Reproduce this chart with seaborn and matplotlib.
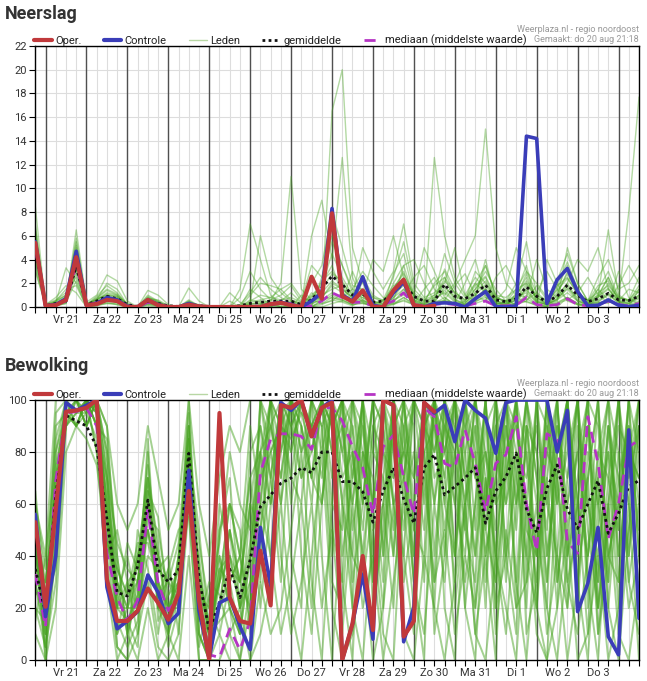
import matplotlib
matplotlib.use('Agg')
import matplotlib.pyplot as plt
import seaborn as sns
import pandas as pd
from matplotlib.lines import Line2D

# tijd-as: stappen van 6 uur vanaf do 20 aug 18:00
n_steps = 60
day_labels = ['Vr 21', 'Za 22', 'Zo 23', 'Ma 24', 'Di 25', 'Wo 26', 'Do 27',
              'Vr 28', 'Za 29', 'Zo 30', 'Ma 31', 'Di 1', 'Wo 2', 'Do 3']

# ---- Neerslag (mm) ----
rain_oper = [5.4, 0.1, 0.15, 0.6, 4.2, 0.15, 0.25, 0.6, 0.5, 0,
             0, 0.6, 0.15, 0, 0, 0.2, 0.05, 0, 0, 0,
             0, 0, 0, 0.25, 0.35, 0.15, 0, 2.55, 0.7, 7.9,
             0.9, 0.45, 1.4, 0, 0, 1.4, 2.3, 0.15, 0, 0.1]
rain_ctrl = [5.5, 0.1, 0.2, 0.7, 4.7, 0.15, 0.3, 0.8, 0.6, 0.05,
             0, 0.6, 0.2, 0, 0, 0.3, 0.05, 0, 0, 0,
             0, 0, 0, 0.25, 0.4, 0.2, 0, 0.5, 1.2, 8.3,
             1.0, 0.5, 2.55, 0.1, 0, 1.2, 2.1, 0.1, 0, 0.3,
             0.35, 0.3, 0, 0.7, 1.3, 0.03, 0, 0.1, 14.4, 14.2,
             0.3, 2.3, 3.25, 1.3, 0.1, 0.15, 0.6, 0.15, 0.03, 0.15]
rain_mean = [5.0, 0.1, 0.3, 0.5, 3.4, 0.2, 0.5, 0.9, 0.7, 0.2,
             0.05, 0.5, 0.3, 0.1, 0.05, 0.2, 0.1, 0.05, 0.05, 0.05,
             0.1, 0.3, 0.4, 0.5, 0.5, 0.5, 0.2, 0.6, 1.6, 2.6,
             1.9, 1.0, 1.1, 0.4, 0.5, 1.2, 2.0, 0.9, 0.5, 0.5,
             1.9, 0.9, 0.7, 1.15, 1.85, 0.6, 0.45, 0.7, 1.7, 0.9,
             0.45, 0.9, 1.85, 1.0, 0.45, 0.7, 1.15, 0.6, 0.55, 0.9]
rain_median = [5.0, 0.05, 0.2, 0.5, 3.5, 0.1, 0.4, 0.7, 0.6, 0.1,
               0, 0.4, 0.2, 0, 0, 0.1, 0, 0, 0, 0,
               0, 0.05, 0.1, 0.2, 0.3, 0.3, 0.1, 0.1, 0.5, 1.2,
               0.8, 0.4, 0.4, 0.1, 0.2, 0.5, 1.2, 0.2, 0.1, 0.2,
               0.3, 0.2, 0.1, 0.3, 0.5, 0.1, 0.1, 0.15, 0.8, 0.2,
               0.1, 0.2, 0.7, 0.2, 0.1, 0.2, 0.5, 0.2, 0.1, 0.3]
rain_members = [
    [5.0, 0.1, 0.3, 0.6, 4.0, 0.1, 0.5, 0.9, 0.7, 0.1, 0, 0.5, 0.3, 0, 0, 0.2, 0, 0, 0, 0, 0, 0.2, 0.5, 0.3, 0.4, 0.2, 0.1, 0.4, 1.5, 2.8, 2.2, 0.6, 1.0, 0.2, 0.3, 1.1, 1.8, 0.6, 0.2, 0.4, 1.6, 0.9, 0.4, 1.0, 1.9, 0.3, 0.2, 0.6, 1.5, 0.5, 0.2, 0.7, 1.6, 0.8, 0.2, 0.5, 1.0, 0.4, 0.3, 0.7],
    [6.2, 0, 0.1, 0.4, 5.2, 0.2, 0.8, 1.5, 1.1, 0.2, 0, 0.8, 0.4, 0.1, 0, 0.6, 0.1, 0, 0, 0, 0, 1.5, 0.8, 0.2, 0, 0, 0.3, 0.1, 2.5, 5.5, 3.5, 1.2, 0.4, 0, 0, 2.8, 4.5, 1.0, 0, 0.5, 3.2, 1.5, 0, 0.8, 4.0, 0.6, 0, 1.2, 3.5, 0.2, 0, 1.8, 3.8, 1.5, 0, 0.9, 2.5, 0.5, 0, 1.5],
    [3.5, 0.2, 0.6, 1.2, 2.5, 0, 0.2, 0.5, 0.4, 0, 0, 0.3, 0.1, 0, 0, 0.1, 0, 0, 0, 0, 0, 0, 0, 0, 0.5, 1.2, 0.4, 0, 0.5, 1.0, 0.6, 0.2, 2.2, 0.8, 0.4, 0.2, 0.8, 0.3, 1.5, 2.5, 0.8, 0.2, 0.5, 2.0, 1.2, 0, 0.4, 0.3, 0.5, 1.8, 0.6, 0, 0.8, 0.3, 0.2, 1.5, 0.6, 0.1, 0, 0.2],
    [8.5, 0, 0.2, 0.5, 6.5, 0.4, 1.0, 2.7, 2.2, 0.5, 0, 1.4, 1.0, 0.2, 0, 1.6, 0.5, 0, 0, 0, 1.5, 7.0, 4.0, 1.0, 0.3, 0, 0, 1.2, 0.5, 16.5, 20.0, 5.0, 2.0, 0.5, 0.2, 1.5, 3.0, 0.8, 0.5, 1.8, 2.5, 1.2, 0.6, 1.5, 3.0, 1.5, 0.5, 2.0, 5.5, 1.0, 0.4, 2.2, 4.5, 2.0, 0.5, 2.5, 4.0, 1.5, 2.0, 3.5],
    [4.0, 0.1, 0.4, 3.3, 2.0, 0, 0.3, 0.6, 0.5, 0, 0, 0.2, 0.1, 0, 0, 0, 0, 0, 0, 0, 0, 0, 0, 0.5, 2.0, 11.0, 1.5, 0.6, 0.3, 0.5, 1.2, 0.5, 0.3, 0.1, 0, 0.4, 1.5, 0.5, 0, 0.2, 0.6, 0.3, 0.2, 0.5, 0.8, 0.4, 0.1, 0.3, 1.0, 0.2, 0.1, 0.4, 0.8, 0.3, 0, 0.3, 0.6, 0.2, 0.1, 0.3],
    [5.5, 0, 0.1, 0.3, 4.8, 0.1, 0.7, 1.0, 0.9, 0.3, 0, 0.6, 0.2, 0, 0, 0.4, 0.2, 0, 0, 0, 0, 0.3, 6.0, 2.5, 1.2, 0.5, 0.2, 6.0, 9.0, 4.0, 12.6, 2.5, 0.5, 0.2, 0, 0.8, 2.0, 0.5, 0.2, 12.6, 6.0, 2.5, 1.0, 0.5, 1.5, 0.8, 0.5, 0.2, 1.8, 0.8, 0.3, 0.6, 1.2, 0.5, 0.2, 0.8, 2.0, 0.6, 8.0, 17.7],
    [3.0, 0.2, 0.8, 1.8, 1.2, 0, 0.1, 0.4, 0.2, 0, 0, 0.8, 0.5, 0, 0, 0.2, 0, 0, 0, 0.5, 0, 0, 0, 0, 0, 0, 0, 0, 0.2, 0.6, 0.4, 0.1, 0.6, 0.2, 0.1, 0.5, 3.5, 4.0, 2.0, 0.5, 0.5, 0.2, 0.1, 1.0, 3.5, 1.0, 0.2, 0.6, 2.0, 0.8, 0.2, 0.5, 5.0, 2.0, 0.5, 1.0, 6.5, 1.0, 0.5, 1.0],
    [7.0, 0, 0.3, 0.5, 5.8, 0.3, 0.6, 2.0, 1.5, 0.2, 0, 1.0, 0.5, 0, 0, 0.3, 0, 0, 0, 0, 0, 1.0, 2.0, 1.8, 1.5, 2.0, 0.8, 0.5, 0.8, 2.0, 1.5, 0.8, 5.0, 3.0, 1.5, 3.0, 7.0, 2.0, 0.8, 1.2, 2.0, 5.0, 1.0, 2.5, 1.5, 0.5, 1.5, 5.0, 3.0, 1.2, 0.5, 1.5, 3.5, 1.0, 0.3, 1.0, 2.5, 0.8, 0.5, 1.8],
    [4.8, 0.1, 0.2, 0.7, 3.0, 0, 0.4, 0.8, 0.6, 0.1, 0, 0.4, 0.2, 0, 0, 0.1, 0, 0, 0, 0, 0, 0, 0.1, 0.3, 0.2, 0.4, 0.2, 0.3, 1.0, 1.5, 1.8, 0.4, 0.8, 0.3, 0.2, 0.5, 1.2, 0.3, 0.2, 0.8, 1.2, 0.4, 0.2, 0.6, 1.5, 0.3, 0.2, 0.8, 1.2, 0.4, 0.2, 0.6, 1.8, 0.5, 0.2, 0.4, 1.1, 0.3, 0.2, 0.5],
    [6.0, 0, 0.5, 1.0, 4.5, 0.2, 0.9, 1.8, 1.2, 0.2, 0, 0.7, 0.6, 0.1, 0, 0.5, 0.1, 0, 0, 0, 0.8, 3.0, 1.5, 0.6, 1.0, 1.8, 0.5, 3.5, 2.5, 6.0, 3.5, 1.5, 1.0, 4.0, 3.0, 6.0, 2.5, 1.0, 5.0, 3.0, 1.0, 2.0, 4.0, 6.0, 15.0, 5.0, 2.0, 1.0, 0.8, 4.0, 1.5, 0.8, 2.0, 4.0, 3.0, 5.0, 1.5, 0.5, 1.5, 1.2],
    [5.2, 0.1, 0.2, 0.5, 3.8, 0.1, 0.5, 0.7, 0.8, 0.1, 0, 0.6, 0.3, 0, 0, 0.2, 0, 0, 0, 0, 0, 0.2, 0.3, 0.2, 0.5, 0.3, 0.1, 0.8, 2.0, 3.5, 1.0, 0.5, 0.6, 0.2, 0.1, 2.0, 3.5, 0.8, 0.3, 0.6, 2.5, 0.6, 0.3, 1.5, 2.5, 0.5, 0.3, 1.0, 2.5, 0.5, 0.2, 1.0, 3.0, 1.0, 0.3, 0.8, 1.5, 0.5, 0.3, 1.0],
    [4.2, 0, 0.1, 0.3, 2.8, 0, 0.2, 0.3, 0.3, 0, 0, 0.1, 0, 0, 0, 0, 0, 0, 0, 1.2, 0.4, 0, 0, 0, 0, 0, 0, 0, 0, 0.3, 0.5, 3.0, 1.0, 0.2, 0.6, 0.3, 0.5, 0.2, 0.1, 0.3, 0.5, 0.3, 2.0, 4.0, 0.8, 0.2, 0.5, 0.8, 0.4, 0.2, 4.0, 2.0, 0.5, 0.2, 0.2, 0.4, 0.3, 3.0, 0.8, 0.2],
    [6.8, 0, 0.4, 0.9, 5.5, 0.2, 0.7, 1.4, 1.0, 0.2, 0, 0.9, 0.4, 0, 0, 0.4, 0.1, 0, 0, 0, 0, 0.5, 1.0, 0.8, 0.6, 0.8, 0.4, 2.0, 3.5, 8.0, 5.0, 1.8, 1.5, 0.8, 0.6, 2.5, 5.5, 1.5, 0.6, 1.0, 4.5, 2.0, 0.8, 2.0, 3.5, 1.0, 0.8, 1.5, 3.0, 2.0, 0.8, 1.8, 2.5, 1.0, 0.4, 1.5, 3.0, 0.8, 0.6, 2.5],
    [3.8, 0.2, 0.5, 1.5, 1.8, 0, 0.3, 0.6, 0.5, 0.1, 0, 0.3, 0.2, 0, 0, 0.1, 0, 0, 0, 0, 0, 0, 0.2, 0.4, 0, 0, 1.0, 0.3, 0.6, 0.8, 0.5, 0.2, 0.4, 0.1, 0, 0.3, 0.8, 0.2, 0, 0.3, 0.8, 0.2, 0.1, 0.4, 1.0, 0.2, 0.1, 0.3, 0.7, 0.2, 0.1, 0.3, 0.8, 0.2, 0.1, 0.3, 0.6, 0.2, 0.1, 0.4],
    [5.8, 0, 0.2, 0.6, 4.4, 0.2, 0.6, 1.1, 0.9, 0.1, 0, 0.5, 0.3, 0, 0, 0.3, 0, 0, 0, 0, 0, 0.6, 0.4, 0.2, 0.3, 0.5, 0.3, 1.0, 1.8, 4.5, 2.5, 1.0, 2.5, 1.0, 0.5, 1.5, 2.5, 1.0, 0.4, 2.0, 3.0, 1.0, 0.5, 3.0, 2.0, 0.8, 0.4, 1.5, 2.0, 0.8, 0.3, 1.2, 2.8, 1.2, 0.5, 1.8, 2.2, 0.6, 0.5, 1.3],
    [4.4, 0.1, 0.3, 0.8, 3.2, 0.1, 0.4, 0.8, 0.6, 0.1, 0, 0.4, 0.2, 0, 0, 0.2, 0, 0, 0, 0, 0, 0.1, 0.2, 0.1, 0.2, 0.3, 0.1, 0.2, 0.8, 1.8, 1.2, 0.3, 0.5, 0.2, 0.1, 0.8, 1.5, 0.4, 0.2, 0.5, 1.4, 0.5, 0.2, 0.8, 1.5, 0.4, 0.2, 0.6, 1.4, 0.4, 0.2, 0.7, 1.5, 0.5, 0.2, 0.6, 1.2, 0.4, 0.3, 0.8],
    [5.6, 0, 0.2, 0.5, 4.6, 0.1, 0.6, 1.0, 0.8, 0.1, 0, 0.6, 0.3, 0, 0, 0.3, 0, 0, 0, 0, 0, 0.3, 0.3, 0.6, 0.5, 0.2, 0.2, 0.9, 1.2, 2.2, 1.5, 0.8, 1.2, 0.5, 0.3, 1.6, 2.8, 1.2, 0.5, 0.8, 2.2, 1.2, 0.6, 1.8, 2.6, 0.8, 0.5, 1.0, 2.2, 1.0, 0.5, 1.4, 2.4, 1.2, 0.6, 1.2, 1.8, 0.8, 0.6, 1.5],
    [4.6, 0.1, 0.5, 1.0, 3.6, 0, 0.3, 0.6, 0.4, 0, 0, 0.3, 0.2, 0, 0, 0.1, 0, 0, 0, 0, 0.2, 1.2, 2.5, 1.5, 0.8, 0.3, 0, 0, 0.6, 1.2, 0.8, 1.5, 3.0, 1.8, 0.8, 0.6, 1.0, 2.5, 3.5, 1.5, 0.6, 1.8, 2.8, 1.0, 0.5, 2.5, 3.5, 1.8, 0.6, 1.2, 3.0, 1.5, 0.6, 1.2, 2.5, 1.0, 0.4, 1.8, 3.5, 2.0],
    [6.5, 0, 0.2, 0.7, 5.0, 0.2, 0.6, 1.2, 1.0, 0.1, 0, 0.7, 0.4, 0, 0, 0.5, 0, 0, 0, 0, 0, 0.4, 0.6, 0.8, 1.5, 0.6, 0.3, 0.5, 2.2, 3.0, 2.0, 1.0, 0.8, 0.3, 0.5, 1.8, 2.2, 0.6, 0.3, 1.0, 1.8, 0.6, 0.3, 1.2, 2.2, 0.5, 0.3, 0.8, 2.8, 0.6, 0.3, 0.9, 2.0, 0.6, 0.3, 0.9, 1.6, 0.5, 0.4, 0.9],
    [3.2, 0.1, 0.2, 0.4, 2.2, 0, 0.1, 0.3, 0.2, 0, 0, 0.2, 0.1, 0, 0, 0, 0, 0, 0, 0, 0, 0, 0, 0.1, 0.2, 0.1, 0, 0.1, 0.3, 0.8, 0.6, 0.2, 0.3, 0.1, 0, 0.2, 0.6, 0.2, 0, 0.2, 0.5, 0.2, 0, 0.3, 0.6, 0.1, 0, 0.2, 0.5, 0.1, 0, 0.3, 0.6, 0.2, 0, 0.2, 0.5, 0.1, 0, 0.2],
]

# ---- Bewolking (%) ----
cloud_oper = [53, 20.5, 58, 95.5, 96, 97, 100, 31, 15, 15,
              19, 27.5, 22, 15.5, 25.6, 65, 23, 0, 95, 24,
              15, 14, 42, 21, 98, 97, 100, 86, 97, 99,
              0, 14, 40, 11.5, 100, 98, 9, 15, 99, 95.5]
cloud_ctrl = [56, 16.7, 40, 99, 96, 98, 100, 28, 12, 15,
              18.6, 32.7, 26, 14, 18, 73, 19, 0.6, 22, 24,
              13, 4, 51, 28, 99, 96, 100, 86, 97, 100,
              0, 14, 33, 8, 100, 98, 7, 20.5, 99, 95,
              98, 84, 100, 96, 93, 79.5, 99, 100, 100, 100,
              100, 80, 96, 18.6, 29.5, 51, 9, 2, 88.5, 16]
cloud_mean = [35, 18, 63, 94, 92, 90, 82, 54, 26, 24.6,
              36, 61.5, 34.6, 30, 34.6, 79.5, 31, 11.5, 22, 35,
              24, 38.5, 59, 63.5, 68, 70, 74, 72, 80, 80,
              68.6, 68.6, 64.7, 53, 65, 74, 62, 52.6, 74, 79,
              63.5, 66.7, 70, 74, 52.6, 65, 70.5, 79.5, 58, 49,
              66, 75, 58, 50.6, 60, 69, 48.7, 56.4, 66.7, 69]
cloud_median = [33, 12.8, 69, 95, 95.5, 97, 90, 41, 24, 15,
                23, 57.7, 29.5, 19, 24, 72, 24, 2, 1, 12,
                4, 15, 72, 85, 87, 87, 86, 81, 97, 97,
                92, 82, 74, 56, 82, 86.5, 70.5, 56, 97, 93.6,
                75.6, 74, 88.5, 75.6, 57, 75.6, 79, 93.6, 60, 42,
                87, 84.6, 45.5, 41, 93.6, 75.6, 46.8, 60, 82, 84.6]
cloud_members = [
    [40, 10, 70, 100, 100, 95, 100, 70, 20, 15, 25, 60, 30, 20, 35, 85, 20, 5, 30, 40, 20, 45, 70, 80, 90, 85, 95, 80, 100, 100, 60, 40, 30, 90, 80, 50, 100, 70, 90, 100, 60, 40, 80, 100, 50, 30, 70, 100, 40, 20, 90, 60, 100, 30, 70, 100, 40, 30, 80, 70],
    [30, 25, 55, 95, 90, 85, 75, 45, 30, 20, 40, 50, 25, 30, 20, 70, 35, 10, 20, 50, 30, 20, 60, 40, 95, 100, 70, 100, 90, 40, 90, 100, 80, 30, 100, 60, 40, 100, 80, 20, 100, 70, 30, 60, 100, 40, 90, 50, 100, 70, 20, 100, 50, 80, 40, 100, 20, 70, 90, 60],
    [45, 5, 80, 100, 95, 100, 95, 60, 10, 30, 10, 70, 45, 10, 25, 90, 10, 0, 40, 20, 10, 60, 50, 90, 100, 70, 60, 100, 100, 90, 100, 30, 60, 100, 40, 100, 80, 30, 100, 70, 80, 100, 50, 30, 90, 100, 60, 80, 20, 100, 40, 70, 100, 60, 10, 80, 100, 30, 50, 100],
    [25, 30, 65, 90, 100, 100, 90, 85, 40, 10, 30, 65, 20, 15, 40, 75, 45, 20, 10, 30, 40, 15, 80, 100, 60, 90, 100, 70, 60, 100, 40, 70, 100, 50, 60, 90, 100, 50, 40, 100, 70, 30, 100, 80, 40, 70, 100, 20, 90, 60, 100, 30, 70, 100, 50, 20, 60, 100, 40, 80],
    [50, 0, 45, 100, 100, 90, 100, 55, 25, 40, 20, 40, 35, 40, 10, 80, 30, 0, 50, 70, 20, 80, 90, 60, 80, 100, 90, 60, 100, 70, 100, 90, 30, 60, 100, 80, 50, 100, 100, 40, 90, 100, 70, 40, 80, 50, 100, 90, 60, 30, 80, 100, 40, 60, 100, 30, 90, 50, 100, 40],
    [35, 20, 90, 95, 90, 100, 100, 75, 15, 5, 15, 55, 50, 25, 30, 65, 15, 30, 25, 10, 0, 30, 40, 70, 100, 80, 100, 90, 70, 100, 80, 60, 90, 40, 70, 100, 60, 80, 50, 100, 40, 90, 60, 100, 70, 20, 80, 100, 30, 100, 60, 40, 90, 20, 80, 60, 30, 100, 70, 90],
    [20, 15, 60, 100, 95, 95, 85, 40, 50, 30, 35, 75, 40, 30, 45, 95, 25, 15, 30, 60, 50, 10, 100, 90, 70, 100, 80, 100, 100, 50, 30, 100, 60, 100, 90, 40, 100, 60, 80, 90, 50, 80, 100, 20, 60, 100, 40, 70, 100, 80, 30, 90, 60, 100, 20, 70, 100, 80, 30, 60],
    [60, 35, 85, 100, 100, 100, 95, 65, 35, 25, 45, 45, 30, 5, 20, 60, 40, 5, 60, 40, 30, 70, 30, 100, 100, 90, 70, 80, 100, 80, 100, 50, 80, 70, 30, 100, 90, 40, 100, 80, 100, 60, 40, 90, 30, 80, 60, 100, 50, 40, 100, 70, 20, 90, 60, 40, 80, 60, 100, 100],
    [55, 10, 50, 100, 90, 95, 100, 80, 20, 20, 20, 85, 20, 20, 30, 100, 20, 10, 15, 20, 10, 40, 100, 80, 90, 70, 100, 100, 90, 100, 70, 80, 40, 80, 100, 70, 80, 100, 60, 100, 90, 40, 100, 70, 80, 40, 90, 60, 100, 20, 70, 100, 30, 50, 90, 60, 100, 40, 70, 100],
    [15, 40, 75, 95, 100, 90, 100, 50, 5, 0, 50, 35, 10, 35, 50, 55, 5, 25, 45, 80, 60, 50, 80, 60, 100, 60, 90, 70, 100, 90, 100, 70, 100, 30, 60, 100, 70, 40, 90, 60, 100, 90, 60, 100, 60, 90, 30, 80, 60, 100, 40, 80, 100, 40, 90, 20, 70, 100, 60, 30],
    [40, 20, 70, 90, 95, 100, 90, 70, 45, 35, 30, 65, 55, 20, 25, 85, 35, 10, 35, 30, 40, 90, 60, 100, 80, 100, 95, 90, 60, 100, 90, 40, 100, 60, 80, 70, 100, 90, 30, 100, 80, 60, 100, 50, 100, 60, 70, 100, 80, 40, 100, 60, 80, 100, 30, 50, 90, 70, 40, 90],
    [30, 5, 40, 100, 100, 95, 100, 90, 30, 10, 25, 80, 15, 25, 35, 70, 10, 0, 20, 50, 20, 30, 70, 100, 90, 100, 100, 100, 100, 60, 50, 100, 70, 100, 40, 90, 100, 50, 70, 100, 60, 100, 80, 40, 100, 30, 100, 70, 40, 100, 90, 30, 60, 80, 100, 90, 40, 60, 90, 50],
    [45, 15, 95, 100, 90, 100, 95, 60, 25, 15, 5, 60, 40, 15, 40, 90, 25, 20, 40, 20, 0, 20, 50, 80, 60, 100, 80, 90, 100, 80, 90, 60, 100, 80, 70, 40, 90, 100, 90, 80, 100, 40, 90, 100, 40, 70, 100, 30, 90, 80, 50, 100, 40, 70, 100, 10, 60, 90, 80, 70],
    [65, 25, 35, 90, 95, 100, 90, 55, 20, 45, 35, 70, 25, 35, 20, 80, 50, 10, 20, 35, 30, 60, 90, 70, 100, 90, 100, 100, 80, 100, 60, 90, 60, 100, 90, 60, 70, 100, 100, 60, 90, 80, 50, 100, 80, 60, 100, 60, 100, 70, 30, 80, 100, 50, 70, 100, 30, 80, 60, 100],
    [35, 30, 60, 100, 100, 100, 80, 45, 35, 25, 30, 50, 30, 10, 30, 75, 30, 15, 30, 60, 40, 70, 80, 90, 70, 100, 90, 70, 100, 90, 100, 80, 50, 90, 100, 60, 80, 70, 100, 90, 70, 100, 90, 70, 60, 100, 80, 90, 60, 50, 80, 70, 100, 60, 40, 80, 70, 50, 100, 80],
    [50, 0, 80, 95, 100, 90, 100, 70, 10, 20, 40, 60, 35, 30, 25, 85, 20, 5, 35, 40, 20, 40, 60, 100, 90, 80, 100, 90, 100, 100, 80, 100, 90, 60, 100, 90, 70, 100, 90, 100, 80, 100, 70, 90, 50, 90, 100, 80, 70, 90, 60, 90, 70, 100, 60, 30, 90, 40, 80, 100],
    [20, 5, 30, 90, 100, 100, 100, 40, 5, 0, 10, 30, 5, 0, 10, 60, 0, 0, 10, 0, 0, 0, 10, 30, 60, 20, 0, 40, 80, 20, 0, 10, 40, 0, 20, 60, 10, 0, 40, 20, 0, 30, 60, 10, 0, 40, 20, 0, 60, 10, 0, 20, 50, 0, 10, 40, 0, 20, 60, 0],
    [60, 40, 100, 100, 100, 100, 100, 90, 60, 50, 60, 90, 70, 50, 60, 100, 60, 40, 70, 90, 80, 100, 100, 100, 40, 10, 30, 60, 20, 50, 10, 60, 20, 40, 0, 30, 60, 20, 80, 30, 50, 10, 40, 20, 70, 10, 50, 20, 30, 60, 10, 40, 0, 30, 70, 10, 40, 60, 20, 40],
    [10, 0, 20, 80, 90, 100, 80, 30, 0, 10, 0, 20, 0, 10, 0, 40, 0, 0, 0, 10, 20, 0, 30, 10, 20, 50, 80, 30, 0, 60, 100, 20, 0, 50, 10, 0, 70, 30, 0, 100, 20, 0, 60, 10, 40, 0, 80, 30, 0, 50, 20, 0, 40, 100, 30, 0, 60, 10, 0, 30],
    [40, 20, 70, 100, 100, 90, 100, 60, 30, 20, 30, 60, 40, 20, 30, 80, 20, 10, 30, 50, 30, 60, 20, 60, 100, 40, 20, 100, 40, 0, 60, 20, 100, 20, 50, 100, 30, 60, 100, 10, 40, 100, 20, 60, 100, 20, 40, 100, 10, 30, 100, 40, 20, 60, 100, 20, 50, 100, 30, 10],
    [50, 30, 60, 95, 90, 100, 90, 50, 20, 30, 20, 50, 30, 20, 20, 70, 30, 10, 20, 30, 10, 40, 80, 40, 10, 30, 60, 20, 90, 30, 20, 80, 40, 10, 60, 20, 90, 30, 10, 60, 30, 80, 20, 0, 70, 40, 10, 60, 80, 20, 0, 70, 30, 10, 40, 70, 20, 0, 50, 90],
    [30, 10, 50, 100, 100, 100, 100, 80, 40, 10, 40, 70, 20, 10, 40, 90, 10, 0, 50, 60, 40, 20, 100, 70, 30, 100, 40, 10, 60, 100, 30, 0, 80, 60, 20, 90, 40, 10, 70, 30, 100, 20, 60, 80, 20, 100, 40, 10, 90, 40, 70, 20, 100, 30, 0, 60, 80, 20, 100, 40],
]

# controle op lengtes
checks = {'rain_ctrl': rain_ctrl, 'rain_mean': rain_mean, 'rain_median': rain_median,
          'cloud_ctrl': cloud_ctrl, 'cloud_mean': cloud_mean, 'cloud_median': cloud_median}
for i, m in enumerate(rain_members):
    checks['rain_m%d' % i] = m
for i, m in enumerate(cloud_members):
    checks['cloud_m%d' % i] = m
bad = {k: len(v) for k, v in checks.items() if len(v) != n_steps}
if bad or len(rain_oper) != 40 or len(cloud_oper) != 40:
    raise ValueError(str(bad) + ' oper: %d %d' % (len(rain_oper), len(cloud_oper)))

# kleuren
C_OPER = '#c0393b'
C_CTRL = '#3a3db8'
C_LEDEN = '#4aa524'
C_MEAN = '#111111'
C_MED = '#b534c4'

sns.set_theme(style='white')
plt.rcParams['font.family'] = ['Roboto', 'DejaVu Sans']

fig = plt.figure(figsize=(6.47, 6.81), dpi=100)
W, H = 647.0, 681.0


def make_axes(top_px, bottom_px):
    left, right = 35.3, 639.0
    return fig.add_axes([left / W, 1 - bottom_px / H, (right - left) / W, (bottom_px - top_px) / H])


def draw_panel(ax, members, oper, ctrl, mean, median, ymax, ystep, member_lw, member_alpha):
    steps = list(range(n_steps))
    # rasterlijnen
    for s in steps:
        ax.axvline(s, color='#dddddd', lw=0.8, zorder=0)
    for y in range(0, ymax + 1, ystep):
        ax.axhline(y, color='#dddddd', lw=0.8, zorder=0)
    for d in range(1, n_steps, 4):
        ax.axvline(d, color='#505050', lw=1.0, zorder=1)

    rows = []
    for k, m in enumerate(members):
        for s, v in enumerate(m):
            rows.append({'step': s, 'value': v, 'member': k})
    df = pd.DataFrame(rows)
    sns.lineplot(data=df, x='step', y='value', units='member', estimator=None,
                 color=C_LEDEN, lw=member_lw, alpha=member_alpha, ax=ax, legend=False, zorder=2)

    sns.lineplot(x=steps, y=median, color=C_MED, lw=2.0, ax=ax, zorder=3).lines[-1].set_dashes([4, 2.5])
    sns.lineplot(x=steps, y=mean, color=C_MEAN, lw=2.0, ax=ax, zorder=4).lines[-1].set_dashes([1, 1.2])
    sns.lineplot(x=steps, y=ctrl, color=C_CTRL, lw=2.6, ax=ax, zorder=5)
    sns.lineplot(x=list(range(len(oper))), y=oper, color=C_OPER, lw=3.0, ax=ax, zorder=6)

    ax.set_xlim(0, n_steps - 1)
    ax.set_ylim(0, ymax)
    ax.set_xlabel('')
    ax.set_ylabel('')
    ax.set_yticks(range(0, ymax + 1, ystep))
    ax.set_xticks([3 + 4 * k for k in range(len(day_labels))], day_labels)
    ax.set_xticks(steps, minor=True)
    ax.tick_params(axis='x', which='both', length=4, width=0.8, color='black',
                   direction='out', bottom=True, labelsize=8, labelcolor='#333333', pad=2)
    ax.tick_params(axis='y', length=4, width=0.8, color='black', direction='out',
                   left=True, labelsize=8, labelcolor='#333333', pad=2)
    for sp in ax.spines.values():
        sp.set_color('black')
        sp.set_linewidth(1.0)
        sp.set_visible(True)

    handles = [
        Line2D([], [], color=C_OPER, lw=3.0),
        Line2D([], [], color=C_CTRL, lw=3.0),
        Line2D([], [], color='#b8d7a4', lw=1.0),
        Line2D([], [], color=C_MEAN, lw=2.0, dashes=[1, 1.2]),
        Line2D([], [], color=C_MED, lw=2.0, dashes=[4, 2.5]),
    ]
    labels = ['Oper.', 'Controle', 'Leden', 'gemiddelde', 'mediaan (middelste waarde)']
    ax.legend(handles, labels, loc='lower left', bbox_to_anchor=(-0.004, 0.995), ncol=5,
              frameon=False, fontsize=8, handlelength=1.6, handletextpad=0.3,
              columnspacing=2.0, borderaxespad=0, borderpad=0.1, labelcolor='#222222')


ax1 = make_axes(46, 307)
draw_panel(ax1, rain_members, rain_oper, rain_ctrl, rain_mean, rain_median, 22, 2, 1.0, 0.42)
ax2 = make_axes(400, 660)
draw_panel(ax2, cloud_members, cloud_oper, cloud_ctrl, cloud_mean, cloud_median, 100, 20, 1.4, 0.5)

# titels en bronvermelding
for title, ypx in [('Neerslag', 14), ('Bewolking', 366)]:
    fig.text(5 / W, 1 - ypx / H, title, fontsize=13, fontweight='bold', color='#333333',
             ha='left', va='center')
for ypx in [30, 383]:
    fig.text(639 / W, 1 - ypx / H, 'Weerplaza.nl - regio noordoost', fontsize=6.5,
             color='#999999', ha='right', va='center')
    fig.text(639 / W, 1 - (ypx + 10) / H, 'Gemaakt: do 20 aug 21:18', fontsize=6.5,
             color='#999999', ha='right', va='center')

fig.savefig('out.png', dpi=100)
plt.close(fig)
